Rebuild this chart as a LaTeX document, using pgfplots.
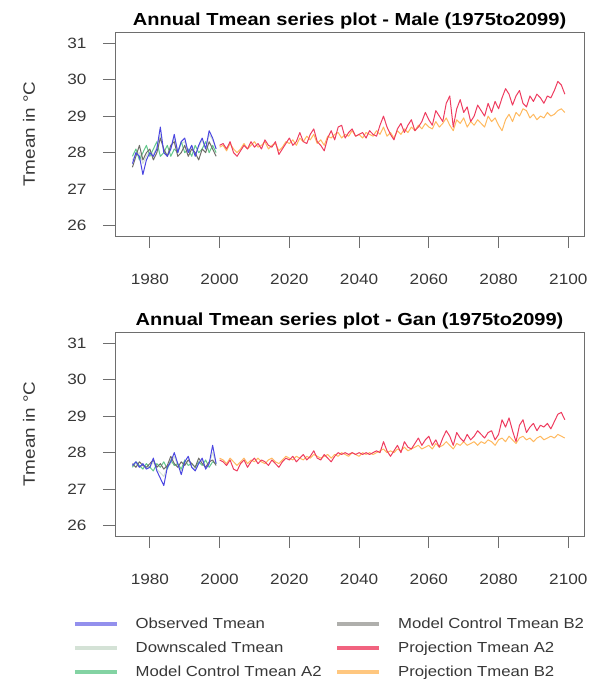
\documentclass[border=0pt]{standalone}
\usepackage{fontspec}
\setmainfont[FakeStretch=1.15]{Liberation Sans}
\usepackage{pgfplots}
\pgfplotsset{compat=1.18}
\usepackage{pgfplotstable}

\definecolor{cobs}{RGB}{75,70,225}
\definecolor{cdown}{RGB}{212,226,214}
\definecolor{cctla}{RGB}{100,200,140}
\definecolor{cctlb}{RGB}{110,110,105}
\definecolor{cpra}{RGB}{238,60,95}
\definecolor{cprb}{RGB}{255,185,95}
\definecolor{axgray}{RGB}{110,110,110}
\definecolor{txtgray}{RGB}{55,55,55}

% Male historical: year obs down ctlA2 ctlB2
\pgfplotstableread{
year obs down ctla ctlb
1975 27.70 27.80 27.90 27.60
1976 28.00 27.95 28.10 27.90
1977 27.90 28.00 27.80 28.20
1978 27.40 27.70 28.00 27.80
1979 27.80 27.90 28.20 28.00
1980 28.00 28.05 27.90 28.10
1981 27.90 27.95 28.10 27.80
1982 28.10 28.15 28.30 28.00
1983 28.70 28.50 27.90 28.40
1984 28.00 28.05 28.00 28.10
1985 27.90 27.95 28.20 27.90
1986 28.10 28.10 27.90 28.20
1987 28.50 28.40 28.10 28.30
1988 28.00 28.05 28.00 27.90
1989 28.30 28.25 28.30 28.00
1990 28.40 28.30 28.00 28.20
1991 28.00 28.00 28.10 27.90
1992 28.20 28.20 27.90 28.10
1993 27.90 27.95 28.20 28.00
1994 28.20 28.15 28.00 27.80
1995 28.40 28.35 28.10 28.10
1996 28.10 28.10 28.30 28.00
1997 28.60 28.50 28.00 28.30
1998 28.40 28.35 28.20 28.10
1999 28.10 28.10 28.00 27.90
}\malehist

% Male projections: year A2 B2
\pgfplotstableread{
year pa pb
2000 28.20 28.15
2001 28.25 28.20
2002 28.10 28.05
2003 28.30 28.25
2004 28.00 28.10
2005 27.90 28.00
2006 28.05 28.10
2007 28.20 28.25
2008 28.10 28.10
2009 28.30 28.20
2010 28.15 28.30
2011 28.25 28.15
2012 28.10 28.20
2013 28.35 28.30
2014 28.20 28.10
2015 28.15 28.20
2016 28.30 28.25
2017 27.95 28.05
2018 28.10 28.15
2019 28.25 28.30
2020 28.40 28.25
2021 28.20 28.35
2022 28.30 28.20
2023 28.55 28.40
2024 28.30 28.30
2025 28.25 28.45
2026 28.50 28.35
2027 28.65 28.50
2028 28.30 28.25
2029 28.20 28.35
2030 28.05 28.20
2031 28.40 28.45
2032 28.60 28.40
2033 28.35 28.50
2034 28.70 28.55
2035 28.75 28.40
2036 28.40 28.50
2037 28.55 28.45
2038 28.65 28.60
2039 28.45 28.45
2040 28.50 28.50
2041 28.55 28.40
2042 28.40 28.55
2043 28.60 28.50
2044 28.50 28.45
2045 28.45 28.60
2046 28.75 28.50
2047 29.00 28.70
2048 28.70 28.45
2049 28.50 28.55
2050 28.35 28.40
2051 28.65 28.60
2052 28.80 28.50
2053 28.55 28.65
2054 28.75 28.55
2055 28.90 28.70
2056 28.60 28.60
2057 28.70 28.75
2058 28.85 28.65
2059 29.10 28.80
2060 28.90 28.70
2061 28.75 28.65
2062 29.15 28.85
2063 29.00 28.70
2064 28.85 28.80
2065 29.35 28.95
2066 29.55 28.75
2067 28.70 28.60
2068 29.20 28.90
2069 29.45 28.80
2070 29.10 28.95
2071 29.25 28.70
2072 28.85 28.85
2073 29.00 28.75
2074 29.30 28.90
2075 29.15 28.80
2076 29.00 28.70
2077 29.35 29.00
2078 29.10 28.85
2079 29.40 28.95
2080 29.20 28.75
2081 29.50 28.60
2082 29.75 28.90
2083 29.60 29.05
2084 29.30 28.85
2085 29.55 29.10
2086 29.70 29.00
2087 29.35 29.20
2088 29.25 29.15
2089 29.55 28.95
2090 29.40 29.05
2091 29.60 28.90
2092 29.50 29.00
2093 29.35 28.95
2094 29.55 29.10
2095 29.50 29.00
2096 29.70 29.05
2097 29.95 29.15
2098 29.85 29.20
2099 29.60 29.10
}\maleproj

% Gan historical
\pgfplotstableread{
year obs down ctla ctlb
1975 27.65 27.65 27.60 27.70
1976 27.75 27.70 27.75 27.60
1977 27.60 27.60 27.65 27.75
1978 27.70 27.65 27.55 27.65
1979 27.55 27.60 27.70 27.60
1980 27.60 27.60 27.60 27.70
1981 27.85 27.75 27.50 27.80
1982 27.50 27.55 27.70 27.60
1983 27.30 27.45 27.60 27.70
1984 27.10 27.35 27.75 27.55
1985 27.60 27.60 27.55 27.65
1986 27.75 27.70 27.80 27.90
1987 28.00 27.90 27.65 27.70
1988 27.70 27.65 27.70 27.60
1989 27.40 27.50 27.55 27.75
1990 27.75 27.70 27.80 27.65
1991 27.90 27.80 27.65 27.80
1992 27.60 27.60 27.70 27.70
1993 27.50 27.55 27.60 27.60
1994 27.70 27.70 27.75 27.85
1995 27.85 27.80 27.65 27.70
1996 27.55 27.60 27.80 27.60
1997 27.70 27.70 27.60 27.75
1998 28.20 28.00 27.75 27.80
1999 27.70 27.70 27.70 27.65
}\ganhist

% Gan projections
\pgfplotstableread{
year pa pb
2000 27.80 27.85
2001 27.75 27.80
2002 27.65 27.70
2003 27.80 27.85
2004 27.55 27.75
2005 27.50 27.65
2006 27.70 27.75
2007 27.80 27.85
2008 27.60 27.70
2009 27.75 27.80
2010 27.85 27.75
2011 27.70 27.85
2012 27.80 27.75
2013 27.75 27.70
2014 27.65 27.80
2015 27.80 27.85
2016 27.70 27.75
2017 27.60 27.70
2018 27.75 27.80
2019 27.85 27.90
2020 27.80 27.85
2021 27.90 27.80
2022 27.75 27.90
2023 27.85 27.85
2024 27.95 27.80
2025 27.80 27.90
2026 27.90 27.85
2027 28.05 27.95
2028 27.85 27.90
2029 27.80 27.85
2030 27.95 27.90
2031 27.85 27.95
2032 27.75 27.85
2033 27.90 27.95
2034 28.00 27.90
2035 27.95 28.00
2036 28.00 27.95
2037 27.95 27.90
2038 28.00 28.00
2039 27.95 27.95
2040 28.00 27.90
2041 27.95 28.00
2042 28.00 27.95
2043 27.95 28.00
2044 28.00 27.95
2045 28.05 28.00
2046 28.00 28.05
2047 28.30 28.10
2048 28.05 28.00
2049 27.90 28.05
2050 28.05 28.00
2051 28.20 28.10
2052 28.00 28.05
2053 28.30 28.15
2054 28.15 28.05
2055 28.10 28.10
2056 28.25 28.15
2057 28.40 28.20
2058 28.20 28.10
2059 28.35 28.15
2060 28.45 28.20
2061 28.20 28.10
2062 28.35 28.25
2063 28.15 28.15
2064 28.40 28.20
2065 28.60 28.30
2066 28.45 28.20
2067 28.20 28.10
2068 28.55 28.25
2069 28.40 28.20
2070 28.30 28.30
2071 28.50 28.20
2072 28.35 28.25
2073 28.45 28.30
2074 28.60 28.20
2075 28.50 28.30
2076 28.40 28.25
2077 28.55 28.35
2078 28.60 28.30
2079 28.35 28.20
2080 28.50 28.35
2081 28.90 28.40
2082 28.70 28.30
2083 28.95 28.45
2084 28.60 28.35
2085 28.30 28.25
2086 28.75 28.40
2087 28.90 28.45
2088 28.55 28.35
2089 28.70 28.40
2090 28.80 28.30
2091 28.60 28.40
2092 28.75 28.45
2093 28.70 28.35
2094 28.80 28.40
2095 28.65 28.45
2096 28.85 28.40
2097 29.05 28.50
2098 29.10 28.45
2099 28.90 28.40
}\ganproj

\pgfplotsset{
  rpanel/.style={
    scale only axis, width=469bp, height=204bp,
    xmin=1970, xmax=2104.5, ymin=25.72, ymax=31.3,
    axis line style={draw=axgray, line width=0.9bp},
    xtick={1980,2000,...,2100}, ytick={26,27,...,31},
    tick align=outside, tick pos=left,
    major tick length=12bp,
    every tick/.style={draw=axgray, line width=0.9bp},
    /pgf/number format/assume math mode=true,
    /pgf/number format/1000 sep={},
    xticklabel style={font=\fontsize{15}{18}\selectfont, text=txtgray, anchor=center, yshift=-31bp},
    yticklabel style={font=\fontsize{15}{18}\selectfont, text=txtgray, anchor=center, xshift=-26bp},
    every axis y label/.style={at={(axis description cs:-0.1834,0.5)}, rotate=90, anchor=center,
      font=\fontsize{16.5}{19}\selectfont, text=txtgray},
    ylabel={Tmean in °C},
    every axis title/.style={at={(axis description cs:0.5,1)}, anchor=center, yshift=11bp,
      font=\bfseries\fontsize{17.5}{20}\selectfont},
    clip=true,
  },
  dl/.style={line width=1bp, line join=round},
}

\begin{document}
\begin{tikzpicture}
\path (0,0) rectangle (600bp,-684bp);

\begin{axis}[rpanel, at={(115bp,-236bp)}, anchor=south west,
  title={Annual Tmean series plot - Male (1975to2099)}]
\addplot[dl, cdown] table[x=year, y=down] {\malehist};
\addplot[dl, cctla] table[x=year, y=ctla] {\malehist};
\addplot[dl, cctlb] table[x=year, y=ctlb] {\malehist};
\addplot[dl, cobs] table[x=year, y=obs] {\malehist};
\addplot[dl, cprb] table[x=year, y=pb] {\maleproj};
\addplot[dl, cpra] table[x=year, y=pa] {\maleproj};
\end{axis}

\begin{axis}[rpanel, at={(115bp,-536bp)}, anchor=south west,
  title={Annual Tmean series plot - Gan (1975to2099)},
  legend columns=2,
  legend cell align=left,
  legend image code/.code={\draw[#1, line width=3.5bp] (0bp,0bp) -- (42bp,0bp);},
  legend image post style={line width=3.5bp},
  legend style={at={(axis description cs:-0.0896,-0.397)}, anchor=north west,
    draw=none, fill=none, inner sep=0pt,
    font=\fontsize{14.6}{18}\selectfont, text=txtgray,
    nodes={inner sep=0pt, text height=11bp, text depth=3bp},
    row sep=10bp,
    /tikz/every odd column/.append style={column sep=17bp},
    /tikz/every even column/.append style={column sep=14bp}},
]
\addplot[dl, cdown, forget plot] table[x=year, y=down] {\ganhist};
\addplot[dl, cctla, forget plot] table[x=year, y=ctla] {\ganhist};
\addplot[dl, cctlb, forget plot] table[x=year, y=ctlb] {\ganhist};
\addplot[dl, cobs, forget plot] table[x=year, y=obs] {\ganhist};
\addplot[dl, cprb, forget plot] table[x=year, y=pb] {\ganproj};
\addplot[dl, cpra, forget plot] table[x=year, y=pa] {\ganproj};
\addlegendimage{cobs!60}
\addlegendentry{Observed Tmean}
\addlegendimage{cctlb!55}
\addlegendentry{Model Control Tmean B2}
\addlegendimage{cdown}
\addlegendentry{Downscaled Tmean}
\addlegendimage{cpra!80}
\addlegendentry{Projection Tmean A2}
\addlegendimage{cctla!80}
\addlegendentry{Model Control Tmean A2}
\addlegendimage{cprb!80}
\addlegendentry{Projection Tmean B2}
\end{axis}
\end{tikzpicture}
\end{document}
